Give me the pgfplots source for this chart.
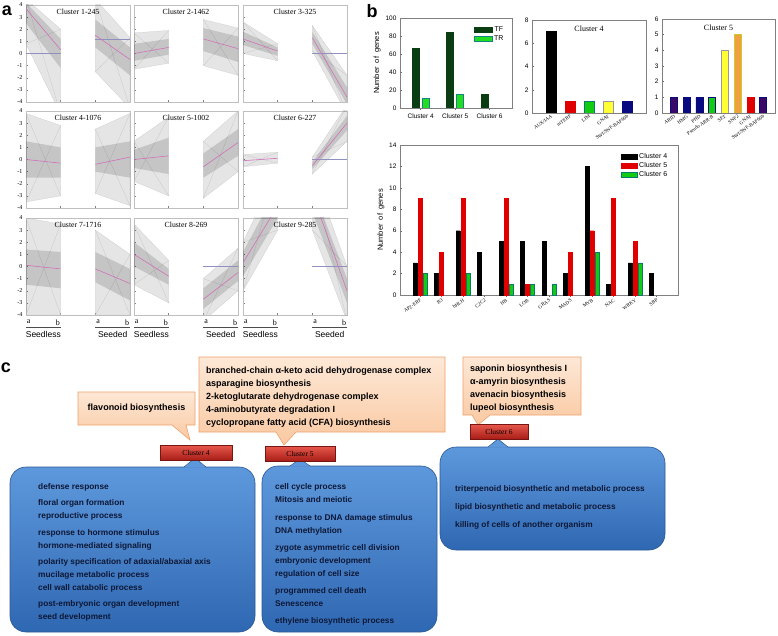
\documentclass[border=0pt]{standalone}
\usepackage{pgfplots}
\pgfplotsset{compat=1.18}
\usepackage{fontspec}
\setmainfont{Liberation Sans}
\newfontfamily\tnr{Liberation Serif}
\newcommand{\fs}[1]{\fontsize{#1}{#1}\selectfont}
\definecolor{mline}{HTML}{D070B8}
\definecolor{hline}{HTML}{9090C0}
\definecolor{tfc}{HTML}{0B3D12}
\definecolor{trc}{HTML}{22DD22}
\definecolor{gc}{HTML}{11CC11}
\definecolor{rc}{HTML}{E00000}
\definecolor{yc}{HTML}{FFFF33}
\definecolor{nc}{HTML}{0A0A80}
\definecolor{oc}{HTML}{F0A040}
\definecolor{orfill}{HTML}{FDE8D6}
\definecolor{orfill2}{HTML}{FAC9A2}
\definecolor{ordraw}{HTML}{EDA06C}
\definecolor{bluetop}{HTML}{5E98DC}
\definecolor{bluebot}{HTML}{2F68B2}
\definecolor{bluedraw}{HTML}{2A5894}
\definecolor{redtop}{HTML}{E8584C}
\definecolor{redbot}{HTML}{A81E18}
\definecolor{btxt}{HTML}{0E1836}

\newcommand{\fan}[6]{%
 \addplot[fill=black, fill opacity=0.10, draw=black!22, very thin, forget plot] coordinates {(#1,#3) (#2,#5) (#2,#6) (#1,#4)} -- cycle;
 \addplot[black!25, very thin, forget plot] coordinates {(#1,#3) (#2,#6)};
 \addplot[black!25, very thin, forget plot] coordinates {(#1,#4) (#2,#5)};
}
\newcommand{\core}[6]{\addplot[fill=black, fill opacity=0.14, draw=none, forget plot] coordinates {(#1,#3) (#2,#5) (#2,#6) (#1,#4)} -- cycle;}
\newcommand{\mean}[4]{\addplot[mline, semithick, forget plot] coordinates {(#1,#3) (#2,#4)};}
\newcommand{\hl}[3]{\addplot[hline, thin, forget plot] coordinates {(#1,#3) (#2,#3)};}
\newcommand{\ab}{%
 \node[anchor=north, font=\tnr\fs{8}, yshift=-1pt] at (axis cs:0.08,-4) {a};
 \node[anchor=north, font=\tnr\fs{8}, yshift=-1pt] at (axis cs:0.92,-4) {b};
 \node[anchor=north, font=\tnr\fs{8}, yshift=-1pt] at (axis cs:2.08,-4) {a};
 \node[anchor=north, font=\tnr\fs{8}, yshift=-1pt] at (axis cs:2.92,-4) {b};
 \draw[black!70] ([yshift=-12pt]axis cs:0,-4) -- ([yshift=-12pt]axis cs:1,-4);
 \draw[black!70] ([yshift=-12pt]axis cs:2,-4) -- ([yshift=-12pt]axis cs:3,-4);
 \node[anchor=north, font=\fs{8.5}, yshift=-12.5pt] at (axis cs:0.5,-4) {Seedless};
 \node[anchor=north, font=\fs{8.5}, yshift=-12.5pt] at (axis cs:2.5,-4) {Seeded};
}
\newcommand{\ttl}[1]{\node[font=\tnr\fs{7.8}] at (rel axis cs:0.5,0.93) {#1};}

\pgfplotsset{
 acell/.style={scale only axis, width=104pt, height=97pt, anchor=north west,
  xmin=0, xmax=3, ymin=-4, ymax=4, xtick={1,2}, xticklabels={},
  ytick={-4,-3,...,4}, xtick pos=bottom, ytick pos=left, tick align=inside,
  major tick length=2pt, axis line style={draw=black!25}, every tick/.style={black!50},
  yticklabel style={font=\tnr\fs{6}}, clip mode=individual,
  /pgf/number format/assume math mode=true},
 nolab/.style={yticklabels={}},
 bstyle/.style={scale only axis, anchor=north west, axis line style={black!50, line width=0.7pt},
  tick align=inside, major tick length=2pt, every tick/.style={black!60},
  xtick pos=bottom, ytick pos=left, tick label style={font=\fs{6.5}},
  /pgf/number format/assume math mode=true, ymin=0},
 rlab/.style={x tick label style={rotate=35, anchor=north east, font=\tnr\fs{5}, inner sep=1pt}},
 bb/.style={ybar, bar shift=0pt, forget plot},
}

\begin{document}
\begin{tikzpicture}
\useasboundingbox (0,0) rectangle (778pt,-636pt);
\node[font=\bfseries\fs{18}] at (7pt,-11pt) {a};
\node[font=\bfseries\fs{18}] at (372pt,-11pt) {b};
\node[font=\bfseries\fs{18}] at (6pt,-368pt) {c};

% ---------- panel a ----------
\begin{axis}[acell, at={(26pt,-5pt)}]
\fan{0}{1}{0.8}{4.5}{-5}{2}\core{0}{1}{2.5}{4.2}{-1.2}{1.2}\hl{0}{1}{0}\mean{0}{1}{3.7}{0.3}
\fan{2}{3}{-1.5}{4.5}{-4.5}{1.3}\core{2}{3}{0.5}{2.8}{-1.8}{0.5}\hl{2}{3}{1.2}\mean{2}{3}{1.5}{-0.5}
\ttl{Cluster 1-245}
\end{axis}
\begin{axis}[acell, nolab, at={(134pt,-5pt)}]
\fan{0}{1}{-1.3}{1.7}{-0.8}{1.9}\core{0}{1}{-0.6}{0.8}{-0.1}{1.2}\mean{0}{1}{0}{0.5}
\fan{2}{3}{-1}{2.8}{-1.8}{2.1}\core{2}{3}{0.2}{2.1}{-0.7}{1.4}\mean{2}{3}{1.2}{0.4}
\ttl{Cluster 2-1462}
\end{axis}
\begin{axis}[acell, nolab, at={(243pt,-5pt)}]
\fan{0}{1}{0}{2.6}{-0.6}{0.8}\core{0}{1}{0.7}{1.8}{-0.2}{0.5}\mean{0}{1}{1.2}{0.2}
\fan{2}{3}{0.2}{2.3}{-5}{-1.8}\core{2}{3}{0.8}{1.8}{-4.2}{-2.8}\hl{2}{3}{0}\mean{2}{3}{1.3}{-3.6}
\ttl{Cluster 3-325}
\end{axis}
\begin{axis}[acell, at={(26pt,-111pt)}]
\fan{0}{1}{-3.5}{3.8}{-3}{2.8}\core{0}{1}{-1.5}{1.5}{-1.5}{1}\mean{0}{1}{0}{-0.3}
\fan{2}{3}{-2.8}{2.5}{-3.8}{3.8}\core{2}{3}{-1}{1}{-1.5}{1.5}\mean{2}{3}{-0.4}{0.2}
\ttl{Cluster 4-1076}
\end{axis}
\begin{axis}[acell, nolab, at={(134pt,-111pt)}]
\fan{0}{1}{-1.8}{1.5}{-3}{3.5}\core{0}{1}{-0.7}{0.8}{-1.2}{1.8}\mean{0}{1}{0}{0.3}
\fan{2}{3}{-3.2}{1.5}{-1}{4}\core{2}{3}{-1.5}{0.5}{0.3}{2.5}\mean{2}{3}{-0.6}{1.4}
\ttl{Cluster 5-1002}
\end{axis}
\begin{axis}[acell, nolab, at={(243pt,-111pt)}]
\fan{0}{1}{-0.6}{0.4}{-0.3}{0.6}\mean{0}{1}{-0.1}{0.1}
\fan{2}{3}{-1.2}{0.2}{1.5}{4.5}\core{2}{3}{-0.8}{-0.2}{2.4}{3.6}\hl{2}{3}{0}\mean{2}{3}{-0.5}{3}
\ttl{Cluster 6-227}
\end{axis}
\begin{axis}[acell, at={(26pt,-218pt)}]
\fan{0}{1}{-4}{4}{-4}{3.5}\core{0}{1}{-1.5}{1.4}{-1.8}{1.2}\mean{0}{1}{0.1}{-0.2}
\fan{2}{3}{-4}{3}{-4}{1}\core{2}{3}{-1.3}{1.2}{-2.8}{-0.2}\mean{2}{3}{-0.2}{-1.4}
\ttl{Cluster 7-1716}
\ab
\end{axis}
\begin{axis}[acell, nolab, at={(134pt,-218pt)}]
\fan{0}{1}{-1.5}{3.5}{-3}{0.5}\core{0}{1}{0}{2}{-1.5}{-0.2}\mean{0}{1}{1}{-0.8}
\fan{2}{3}{-4.5}{-1}{-2}{1.5}\core{2}{3}{-3.5}{-1.8}{-1.2}{0.5}\hl{2}{3}{0}\mean{2}{3}{-2.7}{-0.5}
\ttl{Cluster 8-269}
\ab
\end{axis}
\begin{axis}[acell, nolab, at={(243pt,-218pt)}]
\fan{0}{1}{-2}{2}{3}{8}\core{0}{1}{-0.8}{1.2}{4}{6.5}\mean{0}{1}{0.3}{5}
\fan{2}{3}{3}{8}{-4.5}{0}\core{2}{3}{4.5}{6.5}{-3}{-1}\hl{2}{3}{0}\mean{2}{3}{6}{-2}
\ttl{Cluster 9-285}
\ab
\end{axis}

% ---------- panel b ----------
\begin{axis}[bstyle, at={(400pt,-18pt)}, width=112pt, height=90pt,
  ymax=100, ytick={0,20,...,100}, xmin=-0.6, xmax=2.65, xtick={0,1,2},
  xticklabels={Cluster 4,Cluster 5,Cluster 6}, ybar=3pt, bar width=7pt,
  ylabel={Number\ \ of\ \ genes}, ylabel style={font=\fs{7.5}, yshift=-2pt},
  legend style={at={(0.97,0.95)}, anchor=north east, draw=none, fill=none, font=\fs{7}, row sep=-1pt},
  legend image code/.code={\fill[#1] (0pt,-2.5pt) rectangle (18pt,2.5pt);}]
\addplot[fill=tfc, draw=tfc] coordinates {(0,66) (1,84) (2,15)};
\addplot[fill=trc, draw=trc!60!blue] coordinates {(0,11) (1,15)};
\legend{TF,TR}
\end{axis}

\begin{axis}[bstyle, rlab, at={(532pt,-20pt)}, width=114pt, height=93pt,
  ymax=8, ytick={0,2,...,8}, xmin=-1, xmax=5, xtick={0,...,4},
  xticklabels={AUX/IAA,mTERF,LIM,GNAT,SWI/SNF-BAF60b}]
\addplot[bb, bar width=10pt, fill=black, draw=black] coordinates {(0,7)};
\addplot[bb, bar width=10pt, fill=rc, draw=rc] coordinates {(1,1)};
\addplot[bb, bar width=10pt, fill=gc, draw=gc!60!blue] coordinates {(2,1)};
\addplot[bb, bar width=10pt, fill=yc, draw=black!40] coordinates {(3,1)};
\addplot[bb, bar width=10pt, fill=nc, draw=nc] coordinates {(4,1)};
\node[font=\tnr\fs{8}] at (rel axis cs:0.5,0.91) {Cluster 4};
\end{axis}

\begin{axis}[bstyle, rlab, at={(662pt,-19pt)}, width=113pt, height=94pt,
  ymax=6, ytick={0,1,...,6}, xmin=-0.95, xmax=7.95, xtick={0,...,7},
  xticklabels={ARID,HMG,PHD,Pseudo ARR-B,SET,SNF2,GNAT,SWI/SNF-BAF60b}]
\addplot[bb, bar width=7pt, fill=nc!80!red, draw=nc] coordinates {(0,1)};
\addplot[bb, bar width=7pt, fill=nc, draw=nc] coordinates {(1,1) (2,1)};
\addplot[bb, bar width=7pt, fill=gc, draw=nc] coordinates {(3,1)};
\addplot[bb, bar width=7pt, fill=yc, draw=black!40] coordinates {(4,4)};
\addplot[bb, bar width=7pt, fill=oc, draw=yc!80!black] coordinates {(5,5)};
\addplot[bb, bar width=7pt, fill=rc, draw=rc] coordinates {(6,1)};
\addplot[bb, bar width=7pt, fill=nc!80!red, draw=nc] coordinates {(7,1)};
\node[font=\tnr\fs{8}] at (rel axis cs:0.5,0.91) {Cluster 5};
\end{axis}

\begin{axis}[bstyle, rlab, at={(400pt,-145pt)}, width=278pt, height=150pt,
  ymax=14, ytick={0,2,...,14}, xmin=-0.93, xmax=12, xtick={0,...,11},
  xticklabels={AP2-ERF,B3,bHLH,C2C2,HB,LOB,GRAS,MADS,MYB,NAC,WRKY,SBP},
  ybar=1pt, bar width=4pt,
  ylabel={Number\ \ of\ \ genes}, ylabel style={font=\fs{7.5}, yshift=-2pt},
  legend style={at={(0.98,0.97)}, anchor=north east, draw=none, fill=none, font=\fs{7}, row sep=-1.5pt},
  legend image code/.code={\fill[#1] (0pt,-2.5pt) rectangle (16pt,2.5pt);}]
\addplot[fill=black, draw=black] coordinates {(0,3) (1,2) (2,6) (3,4) (4,5) (5,5) (6,5) (7,2) (8,12) (9,1) (10,3) (11,2)};
\addplot[fill=rc, draw=rc] coordinates {(0,9) (1,4) (2,9) (4,9) (5,1) (7,4) (8,6) (9,9) (10,5)};
\addplot[fill=gc, draw=gc!60!blue] coordinates {(0,2) (2,2) (4,1) (5,1) (6,1) (8,4) (10,3)};
\legend{Cluster 4,Cluster 5,Cluster 6}
\end{axis}

% ---------- panel c ----------
\begin{scope}[x=1pt,y=-1pt]
\tikzset{otxt/.style={anchor=west, font=\bfseries\fs{9}, inner sep=0pt},
         btx/.style={anchor=west, font=\bfseries\fs{8.3}, inner sep=0pt, text=btxt}}
% orange boxes
\shade[top color=orfill, bottom color=orfill2, draw=ordraw, line width=0.6pt]
  (199,357) -- (445,357) -- (445,432) -- (296,432) -- (284,445) -- (276,432) -- (199,432) -- cycle;
\node[otxt] at (206,371) {branched-chain α-keto acid dehydrogenase complex};
\node[otxt] at (206,384) {asparagine biosynthesis};
\node[otxt] at (206,397) {2-ketoglutarate dehydrogenase complex};
\node[otxt] at (206,410) {4-aminobutyrate degradation I};
\node[otxt] at (206,423) {cyclopropane fatty acid (CFA) biosynthesis};

\shade[top color=orfill, bottom color=orfill2, draw=ordraw, line width=0.6pt]
  (78,392) -- (195,392) -- (195,425) -- (186,425) -- (190,440) -- (172,425) -- (78,425) -- cycle;
\node[otxt, anchor=center] at (136.5,408.5) {flavonoid biosynthesis};

\shade[top color=orfill, bottom color=orfill2, draw=ordraw, line width=0.6pt]
  (463,357) -- (581,357) -- (581,415) -- (490,415) -- (478,425) -- (472,415) -- (463,415) -- cycle;
\node[otxt] at (470,369) {saponin biosynthesis I};
\node[otxt] at (470,382) {α-amyrin biosynthesis};
\node[otxt] at (470,395) {avenacin biosynthesis};
\node[otxt] at (470,408) {lupeol biosynthesis};

% blue boxes
\shade[top color=bluetop, bottom color=bluebot, draw=bluedraw, rounded corners=16pt, line width=0.6pt] (10,467) rectangle (255,632);
\fill[bluetop] (184,467.6) -- (195,458) -- (206,467.6) -- cycle;
\draw[bluedraw, line width=0.6pt] (184,467) -- (195,458) -- (206,467);
\node[btx] at (38,487) {defense response};
\node[btx] at (38,503) {floral organ formation};
\node[btx] at (38,516) {reproductive process};
\node[btx] at (38,533) {response to hormone stimulus};
\node[btx] at (38,546) {hormone-mediated signaling};
\node[btx] at (38,562) {polarity specification of adaxial/abaxial axis};
\node[btx] at (38,575) {mucilage metabolic process};
\node[btx] at (38,588) {cell wall catabolic process};
\node[btx] at (38,604) {post-embryonic organ development};
\node[btx] at (38,617) {seed development};

\shade[top color=bluetop, bottom color=bluebot, draw=bluedraw, rounded corners=16pt, line width=0.6pt] (262,466) rectangle (437,632);
\fill[bluetop] (290,466.6) -- (300,459) -- (310,466.6) -- cycle;
\draw[bluedraw, line width=0.6pt] (290,466) -- (300,459) -- (310,466);
\node[btx] at (275,487) {cell cycle process};
\node[btx] at (275,500) {Mitosis and meiotic};
\node[btx] at (275,518) {response to DNA damage stimulus};
\node[btx] at (275,531) {DNA methylation};
\node[btx] at (275,548) {zygote asymmetric cell division};
\node[btx] at (275,561) {embryonic development};
\node[btx] at (275,574) {regulation of cell size};
\node[btx] at (275,591) {programmed cell death};
\node[btx] at (275,604) {Senescence};
\node[btx] at (275,621) {ethylene biosynthetic process};

\shade[top color=bluetop, bottom color=bluebot, draw=bluedraw, rounded corners=16pt, line width=0.6pt] (440,447) rectangle (665,550);
\fill[bluetop] (488,447.6) -- (498,439) -- (508,447.6) -- cycle;
\draw[bluedraw, line width=0.6pt] (488,447) -- (498,439) -- (508,447);
\node[btx] at (455,489) {triterpenoid biosynthetic and metabolic process};
\node[btx] at (455,507) {lipid biosynthetic and metabolic process};
\node[btx] at (455,525) {killing of cells of another organism};

% red cluster bars
\shade[top color=redtop, bottom color=redbot, draw=redbot!70!black, line width=0.5pt] (160,445) rectangle (232,460);
\node[font=\tnr\fs{7.5}] at (196,452.5) {Cluster 4};
\shade[top color=redtop, bottom color=redbot, draw=redbot!70!black, line width=0.5pt] (265,446) rectangle (335,461);
\node[font=\tnr\fs{7.5}] at (300,453.5) {Cluster 5};
\shade[top color=redtop, bottom color=redbot, draw=redbot!70!black, line width=0.5pt] (470,424) rectangle (528,439);
\node[font=\tnr\fs{7.5}] at (499,431.5) {Cluster 6};
\end{scope}
\end{tikzpicture}
\end{document}
